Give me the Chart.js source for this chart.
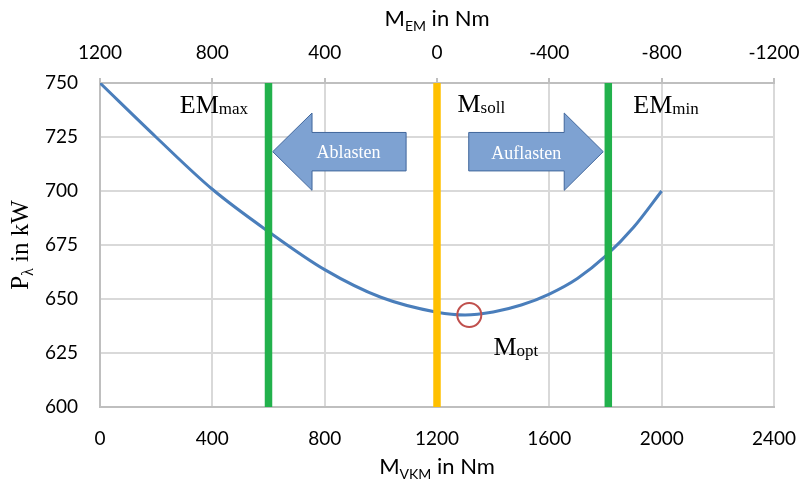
<!DOCTYPE html>
<html>
<head>
<meta charset="utf-8">
<script src="https://cdn.jsdelivr.net/npm/chart.js@4/dist/chart.umd.min.js"></script>
<style>
html, body { margin: 0; padding: 0; background: #fff; }
#wrap { width: 802px; height: 488px; }
</style>
</head>
<body>
<div id="wrap"><canvas id="chart" width="802" height="488"></canvas></div>
<script>
// Verlauf P_lambda über M_VKM
const torqueVKM = [0, 200, 400, 600, 800, 1000, 1200, 1300, 1400, 1500, 1600, 1700, 1800, 1900, 2000];
const powerKW = [750, 724.9, 700.8, 681.2, 663.6, 650.8, 643.9, 642.6, 644.0, 647.2, 652.3, 659.5, 669.8, 683.2, 700];

const bottomTicks = [0, 400, 800, 1200, 1600, 2000, 2400];
const topTicks = [-1200, -800, -400, 0, 400, 800, 1200];
const powerTicks = [600, 625, 650, 675, 700, 725, 750];

const emMaxAt = 600;
const mSollAt = 1200;
const emMinAt = 1810;
const mOptX = [1315];
const mOptY = [642.6];

const SERIF = '"Liberation Serif", "DejaVu Serif", serif';
const SANS = 'Lato, "Open Sans", sans-serif';

function vline(x, color) {
    return {
        data: [{ x: x, y: 600 }, { x: x, y: 750 }],
        borderColor: color,
        borderWidth: 7.5,
        borderCapStyle: 'butt',
        pointRadius: 0,
        fill: false
    };
}

function drawRich(ctx, parts, x, y, align) {
    let w = 0;
    parts.forEach(p => { ctx.font = p.font; w += ctx.measureText(p.t).width; });
    let cx = align === 'center' ? x - w / 2 : x;
    parts.forEach(p => {
        ctx.font = p.font;
        ctx.fillText(p.t, cx, y + (p.dy || 0));
        cx += ctx.measureText(p.t).width;
    });
}

function drawArrow(ctx, pts, fill, stroke) {
    ctx.beginPath();
    pts.forEach((p, i) => i ? ctx.lineTo(p[0], p[1]) : ctx.moveTo(p[0], p[1]));
    ctx.closePath();
    ctx.fillStyle = fill;
    ctx.fill();
    ctx.lineWidth = 1;
    ctx.strokeStyle = stroke;
    ctx.stroke();
}

const annotations = {
    id: 'annotations',
    afterDatasetsDraw(chart) {
        const ctx = chart.ctx;
        const xs = chart.scales.x, ys = chart.scales.y;
        const X = v => xs.getPixelForValue(v);
        const Y = v => ys.getPixelForValue(v);
        ctx.save();

        // Pfeile
        const yc = Y(718.2), hh = Y(718.2 - 17.9) - yc, sh = Y(718.2 - 8.9) - yc;
        let tip = X(615), hb = X(755), se = X(1090);
        drawArrow(ctx, [[tip, yc], [hb, yc - hh], [hb, yc - sh], [se, yc - sh], [se, yc + sh], [hb, yc + sh], [hb, yc + hh]], '#7ea2d2', '#41679c');
        let ss = X(1313); hb = X(1653); tip = X(1792);
        drawArrow(ctx, [[ss, yc - sh], [hb, yc - sh], [hb, yc - hh], [tip, yc], [hb, yc + hh], [hb, yc + sh], [ss, yc + sh]], '#7ea2d2', '#41679c');

        ctx.fillStyle = '#ffffff';
        ctx.textAlign = 'center';
        ctx.textBaseline = 'middle';
        ctx.font = '18px ' + SERIF;
        ctx.fillText('Ablasten', X(885), Y(717.6));
        ctx.fillText('Auflasten', X(1518), Y(717.1));

        // Beschriftungen
        ctx.fillStyle = '#000000';
        ctx.textAlign = 'left';
        ctx.textBaseline = 'alphabetic';
        const big = '26px ' + SERIF, small = '17px ' + SERIF;
        drawRich(ctx, [{ t: 'EM', font: big }, { t: 'max', font: small, dy: 1 }], X(284), Y(736.1), 'left');
        drawRich(ctx, [{ t: 'M', font: big }, { t: 'soll', font: small, dy: 1 }], X(1273), Y(736.4), 'left');
        drawRich(ctx, [{ t: 'EM', font: big }, { t: 'min', font: small, dy: 1 }], X(1899), Y(736), 'left');
        drawRich(ctx, [{ t: 'M', font: big }, { t: 'opt', font: small, dy: 1 }], X(1401), Y(624.1), 'left');

        // Achsentitel
        const tf = '22px ' + SANS, sf = '14px ' + SANS;
        const mid = (chart.chartArea.left + chart.chartArea.right) / 2;
        drawRich(ctx, [{ t: 'M', font: tf }, { t: 'EM', font: sf, dy: 5 }, { t: ' in Nm', font: tf }], mid, 26, 'center');
        drawRich(ctx, [{ t: 'M', font: tf }, { t: 'VKM', font: sf, dy: 5 }, { t: ' in Nm', font: tf }], mid, 474, 'center');

        ctx.translate(28, (chart.chartArea.top + chart.chartArea.bottom) / 2);
        ctx.rotate(-Math.PI / 2);
        drawRich(ctx, [{ t: 'P', font: '25px ' + SERIF }, { t: 'λ', font: '16px ' + SERIF, dy: 5 }, { t: ' in kW', font: '25px ' + SERIF }], 0, 0, 'center');
        ctx.restore();
    }
};

function fixHeight(h) {
    return s => { s.height = h; s.paddingLeft = 0; s.paddingRight = 0; };
}

new Chart(document.getElementById('chart'), {
    type: 'line',
    data: {
        datasets: [
            {
                data: mOptX.map((x, i) => ({ x: x, y: mOptY[i] })),
                showLine: false,
                pointRadius: 12,
                pointBorderWidth: 2,
                pointBorderColor: '#c0504d',
                pointBackgroundColor: 'rgba(0,0,0,0)'
            },
            vline(emMaxAt, '#22b14c'),
            vline(mSollAt, '#ffc000'),
            vline(emMinAt, '#22b14c'),
            {
                data: torqueVKM.map((x, i) => ({ x: x, y: powerKW[i] })),
                borderColor: '#4a7ebb',
                borderWidth: 3,
                pointRadius: 0,
                cubicInterpolationMode: 'monotone',
                fill: false
            }
        ]
    },
    options: {
        responsive: false,
        animation: false,
        layout: { padding: { left: 0, right: 28, top: 0, bottom: 0 } },
        plugins: {
            legend: { display: false },
            tooltip: { enabled: false }
        },
        scales: {
            x: {
                type: 'linear',
                position: 'bottom',
                min: 0,
                max: 2400,
                afterBuildTicks: s => { s.ticks = bottomTicks.map(v => ({ value: v })); },
                afterFit: fixHeight(81),
                ticks: { padding: 20, color: '#000', font: { family: SANS, size: 19 }, callback: v => String(v) },
                grid: { color: '#d9d9d9', lineWidth: 2, drawTicks: false },
                border: { color: '#bfbfbf', width: 2 }
            },
            x2: {
                type: 'linear',
                position: 'top',
                min: -1200,
                max: 1200,
                reverse: true,
                afterBuildTicks: s => { s.ticks = topTicks.map(v => ({ value: v })); },
                afterFit: fixHeight(83),
                ticks: { padding: 14, color: '#000', font: { family: SANS, size: 19 }, callback: v => String(v) },
                grid: { drawOnChartArea: false, drawTicks: true, tickLength: 5, color: '#bfbfbf', lineWidth: 2 },
                border: { color: '#bfbfbf', width: 2 }
            },
            y: {
                type: 'linear',
                min: 600,
                max: 750,
                afterBuildTicks: s => { s.ticks = powerTicks.map(v => ({ value: v })); },
                afterFit: s => { s.width = 100; s.paddingTop = 0; s.paddingBottom = 0; },
                ticks: { padding: 22, color: '#000', font: { family: SANS, size: 19 }, callback: v => String(v) },
                grid: { color: '#d9d9d9', lineWidth: 2, drawTicks: false },
                border: { color: '#bfbfbf', width: 2 }
            }
        }
    },
    plugins: [annotations]
});
</script>
</body>
</html>
